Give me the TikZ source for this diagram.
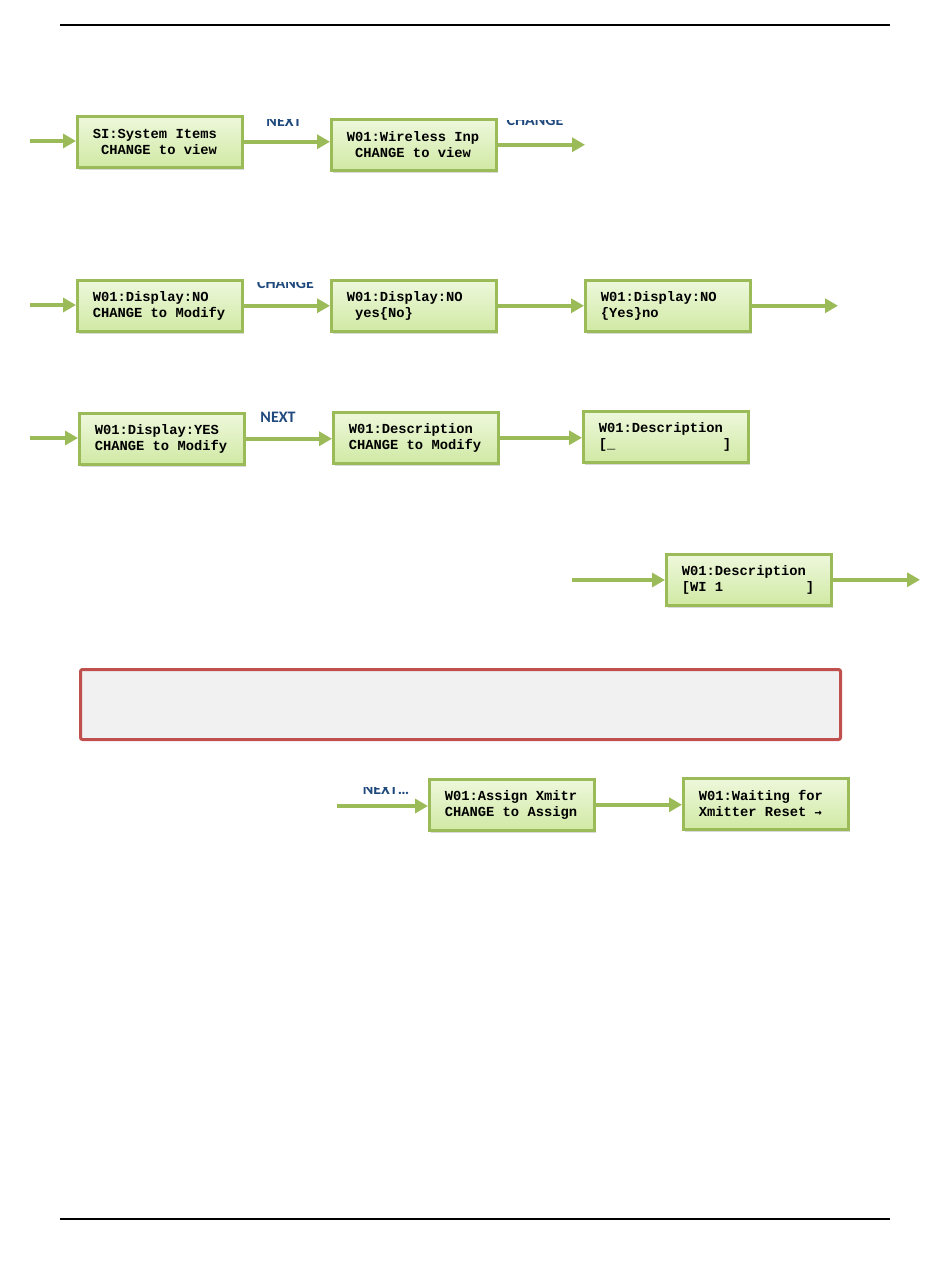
\documentclass[tikz,border=0pt]{standalone}
\usepackage{fontspec}
\setmainfont{Liberation Serif}
\newfontfamily\boxfont{Liberation Mono}
\newfontfamily\lblfont{Carlito}
\newfontfamily\arrfont{DejaVu Sans Mono}
\usetikzlibrary{arrows.meta,shadows}
\definecolor{boxgreen}{HTML}{9BBB59}
\definecolor{filltop}{HTML}{EEF8DC}
\definecolor{fillbot}{HTML}{D0E9A4}
\definecolor{lblblue}{HTML}{1F497D}
\definecolor{redline}{HTML}{C0504D}
\definecolor{notefill}{HTML}{F1F1F1}
\tikzset{
  lcdbox/.style={rectangle, anchor=north west, draw=boxgreen, line width=2.5pt,
    top color=filltop, bottom color=fillbot,
    minimum width=165pt, minimum height=51pt, text width=134pt, inner xsep=15.5pt,
    align=left, font=\boxfont\bfseries\fontsize{13.8}{16}\selectfont,
    execute at begin node={\spaceskip=0.6em\xspaceskip=0.6em\relax},
    drop shadow={shadow xshift=1.5pt, shadow yshift=-2.5pt, opacity=.25, fill=black!60}},
  flow/.style={draw=boxgreen, line width=4pt, -{Triangle[length=13pt,width=14pt]}},
  steplabel/.style={font=\lblfont\bfseries\fontsize{16}{18}\selectfont, text=lblblue, anchor=base, inner sep=0pt},
  rule/.style={line width=2.5pt, black}
}
\begin{document}
\begin{tikzpicture}[x=1pt,y=-1pt]
\useasboundingbox (0,0) rectangle (950,1267);
% page rules
\coordinate (r1a) at (60,25); \coordinate (r1b) at (890,25);
\coordinate (r2a) at (60,1219); \coordinate (r2b) at (890,1219);
\draw[rule] (r1a) -- (r1b);
\draw[rule] (r2a) -- (r2b);

% row 1
\node[lcdbox] (a1) at (76,115) {SI:System Items\\\ CHANGE to view};
\node[lcdbox] (a2) at (330,118) {W01:Wireless Inp\\\ CHANGE to view};
\coordinate (s1) at (30,141);
\coordinate (e1) at (585,144);
\draw[flow] (s1) -- (s1 -| a1.west);
\draw[flow] (a1.east) -- (a1.east -| a2.west);
\draw[flow] (a2.east) -- (a2.east -| e1);
\begin{scope}
  \clip (250,119.5) rectangle (320,131);
  \node[steplabel] (l1) at (284,126.5) {NEXT};
\end{scope}
\begin{scope}
  \clip (495,120) rectangle (580,131);
  \node[steplabel] (l2) at (535,125.5) {CHANGE};
\end{scope}

% row 2
\node[lcdbox] (b1) at (76,279) {W01:Display:NO\\CHANGE to Modify};
\node[lcdbox] (b2) at (330,279) {W01:Display:NO\\\ yes\{No\}};
\node[lcdbox] (b3) at (584,279) {W01:Display:NO\\\{Yes\}no};
\coordinate (s2) at (30,305);
\coordinate (e2) at (838,305);
\draw[flow] (s2) -- (s2 -| b1.west);
\draw[flow] (b1.east) -- (b2.west);
\draw[flow] (b2.east) -- (b3.west);
\draw[flow] (b3.east) -- (b3.east -| e2);
\begin{scope}
  \clip (245,282.5) rectangle (325,293);
  \node[steplabel] (l3) at (285.5,288) {CHANGE};
\end{scope}

% row 3
\node[lcdbox] (c1) at (78,412) {W01:Display:YES\\CHANGE to Modify};
\node[lcdbox] (c2) at (332,411) {W01:Description\\CHANGE to Modify};
\node[lcdbox] (c3) at (582,410) {W01:Description\\{[}\_\ \ \ \ \ \ \ \ \ \ \ \ \ {]}};
\coordinate (s3) at (30,438);
\draw[flow] (s3) -- (s3 -| c1.west);
\draw[flow] (c1.east) -- (c1.east -| c2.west);
\draw[flow] (c2.east) -- (c2.east -| c3.west);
\node[steplabel] (l4) at (278,422.5) {NEXT};

% row 4
\node[lcdbox] (d1) at (665,553) {W01:Description\\{[}WI 1\ \ \ \ \ \ \ \ \ \ {]}};
\coordinate (s4) at (572,580);
\coordinate (e4) at (920,580);
\draw[flow] (s4) -- (s4 -| d1.west);
\draw[flow] (d1.east) -- (d1.east -| e4);

% note box
\node[rectangle, draw=redline, line width=3pt, fill=notefill, rounded corners=2pt,
      anchor=north west, minimum width=760pt, minimum height=70pt, inner sep=0pt] (note) at (79,668) {};

% row 5
\node[lcdbox] (f1) at (428,778) {W01:Assign Xmitr\\CHANGE to Assign};
\node[lcdbox] (f2) at (682,777) {W01:Waiting for\\Xmitter Reset {\arrfont\bfseries\fontsize{12}{16}\selectfont →}};
\coordinate (s5) at (337,806);
\draw[flow] (s5) -- (s5 -| f1.west);
\draw[flow] (f1.east) -- (f1.east -| f2.west);
\begin{scope}
  \clip (350,787.5) rectangle (425,799);
  \node[steplabel] (l5) at (386,794) {NEXT…};
\end{scope}
\end{tikzpicture}
\end{document}
